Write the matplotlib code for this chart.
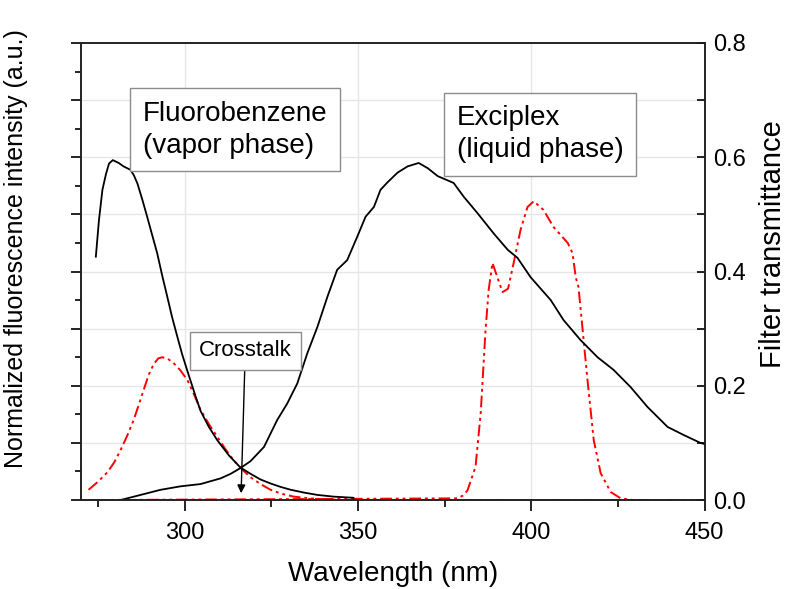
import matplotlib.pyplot as plt
from matplotlib.ticker import MultipleLocator, NullFormatter

plt.rcParams['font.family'] = ['Liberation Sans', 'DejaVu Sans']

# fluorobenzene (vapor phase) emission, normalized
fb_wl = [274.4, 275.3, 276.3, 277.3, 278.2, 279.3, 281.0, 282.4, 284.4, 285.4,
         286.4, 287.8, 289.2, 290.6, 292.1, 293.5, 295.0, 296.4, 297.9, 299.3,
         300.8, 303.2, 304.6, 307.0, 309.4, 312.8, 316.1, 319.0, 321.9, 324.8,
         327.7, 330.6, 334.5, 338.3, 343.0, 348.7]
fb_val = [0.426, 0.490, 0.543, 0.570, 0.589, 0.595, 0.590, 0.584, 0.578, 0.568,
          0.554, 0.526, 0.496, 0.465, 0.432, 0.394, 0.356, 0.320, 0.286, 0.255,
          0.226, 0.181, 0.156, 0.128, 0.105, 0.078, 0.057, 0.046, 0.036, 0.029,
          0.023, 0.018, 0.013, 0.009, 0.006, 0.004]

# exciplex (liquid phase) emission, normalized
ex_wl = [281.5, 287.3, 293.1, 298.8, 304.6, 310.4, 313.3, 316.1, 319.0, 322.9,
         326.7, 329.6, 332.5, 335.4, 338.3, 341.2, 344.0, 346.9, 349.8, 352.2,
         354.6, 356.5, 358.5, 361.4, 364.3, 367.5, 370.1, 373.0, 377.6, 380.5,
         384.5, 389.1, 393.2, 396.0, 399.8, 405.6, 409.3, 414.2, 419.1, 423.7,
         428.6, 433.5, 439.3, 443.9, 448.8, 450.0]
ex_val = [0.000, 0.009, 0.018, 0.024, 0.028, 0.038, 0.046, 0.056, 0.068, 0.093,
          0.140, 0.169, 0.204, 0.257, 0.303, 0.356, 0.403, 0.420, 0.461, 0.496,
          0.513, 0.543, 0.556, 0.573, 0.584, 0.590, 0.581, 0.567, 0.555, 0.531,
          0.502, 0.467, 0.438, 0.424, 0.390, 0.350, 0.315, 0.280, 0.250, 0.228,
          0.198, 0.163, 0.128, 0.114, 0.100, 0.098]

# filter for fluorobenzene channel
f1_wl = [272.3, 275.0, 277.8, 279.7, 281.5, 283.4, 285.3, 286.8, 288.2, 289.7,
         291.1, 292.4, 293.6, 295.2, 296.8, 298.8, 300.8, 302.7, 304.6, 307.0,
         309.5, 311.8, 314.1, 316.5, 319.0, 321.9, 324.8, 328.0, 331.5, 336.0,
         341.2, 345.0, 450.0]
f1_val = [0.018, 0.032, 0.049, 0.066, 0.087, 0.112, 0.140, 0.167, 0.193, 0.220,
          0.238, 0.248, 0.250, 0.247, 0.240, 0.227, 0.210, 0.185, 0.158, 0.133,
          0.110, 0.089, 0.070, 0.054, 0.040, 0.028, 0.018, 0.011, 0.006, 0.003,
          0.001, 0.000, 0.000]

# filter for exciplex channel
f2_wl = [272.3, 378.7, 380.3, 381.6, 383.9, 385.4, 386.8, 387.7, 388.8, 390.2,
         391.7, 393.3, 394.9, 396.9, 398.9, 400.7, 403.5, 406.4, 410.5, 411.9,
         412.8, 413.6, 414.8, 416.2, 418.0, 420.0, 422.9, 425.8, 429.5, 450.0]
f2_val = [0.000, 0.003, 0.008, 0.017, 0.058, 0.152, 0.298, 0.368, 0.415, 0.390,
          0.364, 0.370, 0.415, 0.473, 0.513, 0.523, 0.508, 0.478, 0.450, 0.432,
          0.390, 0.373, 0.298, 0.210, 0.105, 0.047, 0.014, 0.003, 0.000, 0.000]

fig = plt.figure(figsize=(7.9, 5.89), dpi=100)
ax = fig.add_axes([0.102, 0.151, 0.790, 0.776])
ax2 = ax.twinx()

grid_kw = dict(color='#e6e6e6', lw=1.0, zorder=0)
for x in [300, 350, 400]:
    ax.axvline(x, **grid_kw)
for y in [0.1, 0.2, 0.3, 0.4, 0.5, 0.6, 0.7]:
    ax.axhline(y, **grid_kw)

red_ls = (0, (6, 2, 1.5, 2, 1.5, 2))
ax.plot(f1_wl, f1_val, color='red', lw=1.4, ls=red_ls, zorder=2)
ax.plot(f2_wl, f2_val, color='red', lw=1.4, ls=red_ls, zorder=2)
ax.plot(fb_wl, fb_val, color='black', lw=1.3, zorder=3)
ax.plot(ex_wl, ex_val, color='black', lw=1.3, zorder=3)

ax.set_xlim(270, 450)
ax.set_ylim(0, 0.8)
ax2.set_ylim(0, 0.8)

ax.xaxis.set_major_locator(MultipleLocator(50))
ax.xaxis.set_minor_locator(MultipleLocator(25))
ax.yaxis.set_major_locator(MultipleLocator(0.1))
ax.yaxis.set_minor_locator(MultipleLocator(0.05))
ax.yaxis.set_major_formatter(NullFormatter())
ax.tick_params(axis='x', which='major', direction='out', length=8, width=1.2,
               labelsize=17, pad=8)
ax.tick_params(axis='x', which='minor', direction='out', length=5, width=1.2)
ax.tick_params(axis='y', which='major', direction='out', length=7, width=1.2)
ax.tick_params(axis='y', which='minor', direction='out', length=4, width=1.2)

ax2.yaxis.set_major_locator(MultipleLocator(0.2))
ax2.yaxis.set_minor_locator(MultipleLocator(0.1))
ax2.yaxis.set_major_formatter(lambda v, p: f'{v:.1f}')
ax2.tick_params(axis='y', which='both', direction='in', length=6, width=1.2,
                labelsize=17, pad=6)

for a in (ax, ax2):
    for s in a.spines.values():
        s.set_linewidth(1.2)
        s.set_color('#222222')

ax.set_xlabel('Wavelength (nm)', fontsize=20, labelpad=12)
ax.set_ylabel('Normalized fluorescence intensity (a.u.)', fontsize=18)
ax.yaxis.set_label_coords(-0.085, 0.55)
ax2.set_ylabel('Filter transmittance', fontsize=21, rotation=90, va='center')
ax2.yaxis.set_label_coords(1.11, 0.56)

box = dict(boxstyle='square,pad=0.45', fc='white', ec='#8c8c8c', lw=1.0)
ax.text(288.0, 0.648, 'Fluorobenzene\n(vapor phase)', fontsize=20, ha='left',
        va='center', linespacing=1.3, bbox=box, zorder=5)
ax.text(378.5, 0.64, 'Exciplex\n(liquid phase)', fontsize=20, ha='left',
        va='center', linespacing=1.3, bbox=box, zorder=5)
ax.annotate('Crosstalk', xy=(316.3, 0.012), xytext=(317.5, 0.261),
            fontsize=16, ha='center', va='center',
            bbox=dict(boxstyle='square,pad=0.4', fc='white', ec='#8c8c8c', lw=1.0),
            arrowprops=dict(arrowstyle='-|>', color='black', lw=1.0,
                            mutation_scale=12, shrinkA=0, shrinkB=0),
            zorder=5)

fig.savefig('out.png', dpi=100)
